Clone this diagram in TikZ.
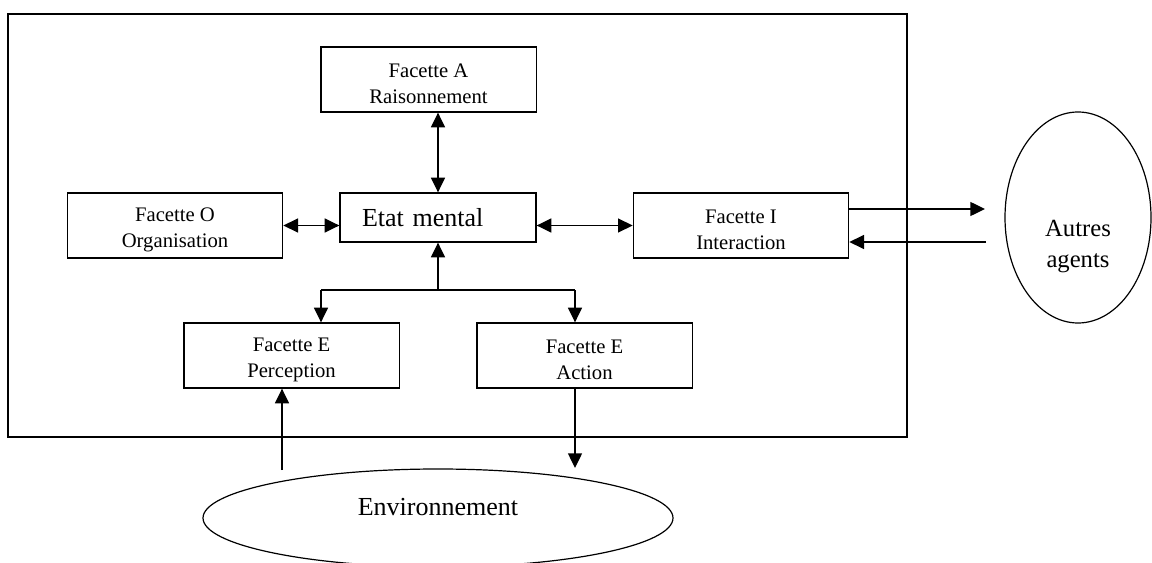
\documentclass[tikz,border=0pt]{standalone}
\usepackage{fontspec}
\setmainfont{Liberation Serif}
\usetikzlibrary{arrows.meta,shapes.geometric}

\begin{document}
\begin{tikzpicture}[x=0.75pt,y=0.75pt,yscale=-1,xscale=1,
  facet/.style={draw,line width=1pt,minimum width=161.5pt,minimum height=48.75pt,
    inner sep=0pt,text height=36pt,align=center,font=\fontsize{15.5}{19.2}\selectfont},
  blob/.style={draw,ellipse,line width=0.9pt,inner sep=0pt},
  bigtext/.style={inner sep=0pt,align=center,font=\fontsize{19.5}{23.4}\selectfont},
  link/.style={line width=1pt,-{Triangle[length=11pt,width=10.5pt]}},
  twoway/.style={line width=1pt,{Triangle[length=11pt,width=10.5pt]}-{Triangle[length=11pt,width=10.5pt]}}]
\useasboundingbox (0,0) rectangle (1152,563);

%Shape: Rectangle [agent frame]
\draw [line width=0.9pt] (8,14) rectangle (907,437);

%Shape: Facets
\node [facet] (raison) at (428.5,79.5) {Facette A\\Raisonnement};
\node [facet] (orga) at (175,225.5) {Facette O\\Organisation};
\node [facet] (inter) at (741,225.5) {Facette I\\Interaction};
\node [facet] (percep) at (291.5,355.5) {Facette E\\Perception};
\node [facet] (action) at (584.5,355.5) {Facette E\\Action};
%Shape: Etat mental
\node [draw,line width=1pt,minimum height=36.75pt,inner ysep=0pt,inner xsep=16.5pt,
  text width=114pt,align=left,font=\fontsize{19.5}{23.4}\selectfont] (etat) at (438,217.5) {Etat mental};

%Shape: Ellipses
\node [blob,minimum width=109.5pt,minimum height=158.25pt] (autres) at (1078,217.5) {};
\node [blob,minimum width=352.5pt,minimum height=73.5pt] (env) at (438,518) {};
% Text Node
\node [bigtext,font=\fontsize{18.5}{23.25}\selectfont] (autrestxt) at (1078,247) {Autres\\agents};
% Text Node
\node [bigtext] (envtxt) at (438,507) {Environnement};

%Free ends
\coordinate (toA) at (985,209);
\coordinate (fromA) at (986,242);
\coordinate (fork) at (438,290);
\coordinate (forkL) at (321,290);
\coordinate (forkR) at (575,290);
\coordinate (fromE) at (282,470);
\coordinate (toE) at (575,468);

%Straight Lines
\draw [twoway] (etat.north |- raison.south) -- (etat.north);
\draw [twoway] (orga.east) -- (orga.east -| etat.west);
\draw [twoway] (etat.east |- inter.west) -- (inter.west);
\draw [link] (inter.east |- toA) -- (toA);
\draw [link] (fromA) -- (inter.east |- fromA);
\draw [link] (fork) -- (etat.south);
\draw [line width=1pt] (forkL) -- (forkR);
\draw [link] (forkL) -- (forkL |- percep.north);
\draw [link] (forkR) -- (forkR |- action.north);
\draw [link] (fromE) -- (fromE |- percep.south);
\draw [link] (forkR |- action.south) -- (toE);

\end{tikzpicture}
\end{document}
